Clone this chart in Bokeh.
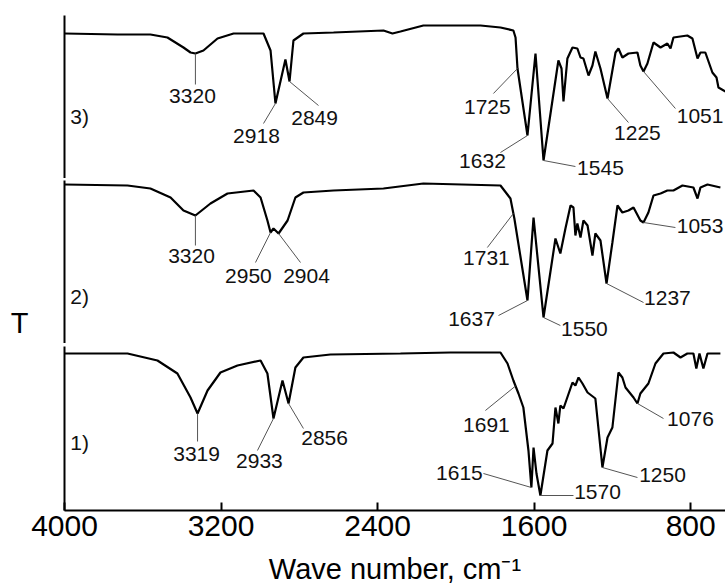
import numpy as np
from bokeh.plotting import figure
from bokeh.layouts import column
from bokeh.models import Range1d, FixedTicker, ColumnDataSource
from bokeh.embed import file_html
from bokeh.resources import INLINE
from bokeh.core.properties import value

FONT = "Liberation Sans"

# ---------------- data (wavenumber cm^-1, transmittance in arbitrary units per panel)
# Spectrum 3 (top)
wn3 = [4000, 3729, 3561, 3474, 3392, 3356, 3331, 3290, 3218, 3136, 2983, 2947, 2922, 2871,
       2850, 2830, 2779, 2625, 2370, 2324, 2283, 2166, 2028, 1874, 1772, 1706, 1695, 1685,
       1634, 1593, 1552, 1476, 1460, 1450, 1430, 1404, 1379, 1363, 1348, 1322, 1302, 1287,
       1261, 1225, 1184, 1169, 1149, 1118, 1072, 1057, 1041, 1021, 990, 954, 919, 903, 888,
       817, 791, 765, 750, 725, 689, 668, 658, 622]
t3 = [145, 144, 144, 141, 131, 126, 125, 128, 140, 145, 145, 128, 75, 119,
      97, 138, 145, 146, 148, 145, 147, 153, 153, 153, 151, 148, 141, 110,
      43, 125, 18, 118, 110, 77, 120, 131, 130, 121, 120, 103, 113, 127,
      110, 80, 126, 130, 121, 125, 126, 113, 107, 115, 136, 131, 135, 130, 141,
      143, 140, 120, 126, 126, 106, 101, 91, 87]

# Spectrum 2 (middle)
wn2 = [4000, 3678, 3561, 3458, 3392, 3331, 3254, 3167, 3034, 2998, 2963, 2947, 2932, 2906,
       2860, 2820, 2779, 2625, 2370, 2166, 1772, 1721, 1701, 1634, 1603, 1552, 1491, 1466,
       1440, 1414, 1399, 1389, 1379, 1363, 1348, 1327, 1302, 1287, 1261, 1230, 1200, 1174,
       1149, 1118, 1092, 1057, 1041, 1016, 990, 954, 919, 888, 842, 786, 765, 750, 714, 648]
t2 = [159, 158, 155, 146, 133, 128, 140, 150, 153, 146, 123, 111, 115, 110,
      123, 146, 151, 153, 155, 160, 158, 145, 125, 43, 126, 26, 105, 90,
      115, 138, 136, 108, 120, 106, 123, 118, 88, 110, 103, 60, 101, 138,
      131, 133, 136, 123, 121, 131, 148, 150, 153, 153, 158, 156, 145, 156, 159, 156]

# Spectrum 1 (bottom)
wn1 = [4000, 3678, 3525, 3423, 3356, 3320, 3269, 3203, 3116, 2998, 2963, 2932, 2886, 2855,
       2820, 2779, 2641, 2283, 2028, 1772, 1736, 1706, 1680, 1655, 1629, 1614, 1603, 1588,
       1568, 1532, 1506, 1491, 1476, 1466, 1450, 1404, 1389, 1373, 1353, 1327, 1287, 1251,
       1225, 1200, 1169, 1149, 1133, 1092, 1072, 1057, 1016, 980, 939, 888, 852, 817, 786,
       771, 755, 735, 714, 648]
t1 = [157, 157, 150, 137, 113, 97, 120, 138, 145, 150, 137, 92, 130, 107,
      143, 153, 156, 157, 158, 158, 147, 130, 117, 103, 60, 23, 63, 37,
      15, 60, 67, 103, 87, 105, 102, 128, 125, 133, 127, 118, 112, 43,
      73, 83, 138, 133, 123, 113, 107, 117, 127, 147, 157, 158, 153, 157, 157,
      142, 157, 142, 157, 157]

# peak annotations: label text, marked wavenumber
lab3 = ["3320", "2918", "2849", "1725", "1632", "1545", "1225", "1051"]
pk3 = [3331, 2922, 2850, 1685, 1634, 1552, 1225, 1041]
lab2 = ["3320", "2950", "2904", "1731", "1637", "1550", "1237", "1053"]
pk2 = [3331, 2947, 2906, 1706, 1634, 1552, 1230, 1041]
lab1 = ["3319", "2933", "2856", "1691", "1615", "1570", "1250", "1076"]
pk1 = [3320, 2932, 2855, 1695, 1614, 1568, 1251, 1072]

# annotation layout (leader end and label centre, in data units)
le3_x = [3331, 2983, 2702, 1808, 1772, 1389, 1118, 878]
le3_y = [94, 55, 73, 85, 26, 12, 56, 70]
lb3_x = [3346, 3019, 2722, 1839, 1864, 1261, 1072, 752]
lb3_y = [83, 43, 61, 72, 18, 11, 46, 63]

le2_x = [3331, 3024, 2794, 1839, 1782, 1466, 1041, 878]
le2_y = [98, 81, 81, 96, 28, 18, 41, 116]
lb2_x = [3351, 3060, 2763, 1844, 1920, 1343, 919, 752]
lb2_y = [88, 68, 68, 86, 25, 15, 46, 118]

le1_x = [3320, 3014, 2779, 1849, 1859, 1399, 1072, 939]
le1_y = [69, 60, 82, 100, 37, 15, 33, 92]
lb1_x = [3325, 3004, 2671, 1844, 1982, 1276, 944, 801]
lb1_y = [57, 50, 73, 86, 38, 19, 36, 92]

panel_names = ["3)", "2)", "1)"]
panel_name_x = 3923
panel_name_y = [62, 47, 68]

x_ticks = [4000, 3200, 2400, 1600, 800]
x_title = "Wave number, cm\u207b\u00b9"
y_title = "T"
y_title_pos = 21   # in the middle panel's units

xr = Range1d(4000, 622)


def make_panel(height, btop, bbottom, frame_h, wn, t, labs, pk, lex, ley, lbx, lby,
               pname, pname_y, show_x, show_ytitle=False):
    p = figure(width=725, height=height, x_range=xr, y_range=Range1d(0, frame_h),
               output_backend="svg", toolbar_location=None,
               x_axis_location=("below" if show_x else None),
               min_border_left=64, min_border_right=0,
               min_border_top=btop, min_border_bottom=bbottom)
    p.outline_line_color = None
    p.grid.visible = False
    p.background_fill_color = "white"
    p.border_fill_color = "white"
    ya = p.yaxis[0]
    ya.ticker = FixedTicker(ticks=([y_title_pos] if show_ytitle else []))
    ya.major_tick_line_color = None
    ya.minor_tick_line_color = None
    ya.axis_line_width = 2
    ya.axis_line_color = "black"
    if show_ytitle:
        ya.major_label_overrides = {y_title_pos: y_title}
        ya.major_label_text_font = FONT
        ya.major_label_text_font_size = "29px"
        ya.major_label_text_color = "black"
        ya.major_label_standoff = 30
    if show_x:
        xa = p.xaxis[0]
        xa.ticker = FixedTicker(ticks=x_ticks)
        xa.axis_line_width = 2
        xa.major_tick_line_width = 2
        xa.major_tick_in = 8
        xa.major_tick_out = 0
        xa.minor_tick_line_color = None
        xa.major_label_text_font = FONT
        xa.major_label_text_font_size = "30px"
        xa.major_label_text_color = "black"
        xa.major_label_standoff = 5
        xa.axis_label = x_title
        xa.axis_label_text_font = FONT
        xa.axis_label_text_font_size = "29px"
        xa.axis_label_text_font_style = "normal"
        xa.axis_label_text_color = "black"
        xa.axis_label_standoff = 14

    p.line(wn, t, line_color="black", line_width=2.2)

    wn_arr = np.array(wn, dtype=float)[::-1]
    t_arr = np.array(t, dtype=float)[::-1]
    py = np.interp(np.array(pk, dtype=float), wn_arr, t_arr)
    p.segment(x0=pk, y0=list(py), x1=lex, y1=ley, line_color="#555555", line_width=1)
    src = ColumnDataSource(dict(x=lbx, y=lby, text=labs))
    p.text(x="x", y="y", text="text", source=src, text_align="center",
           text_baseline="middle", text_font=value(FONT), text_font_size="21px",
           text_color="#111111")
    p.text(x=[panel_name_x], y=[pname_y], text=[pname], text_align="center",
           text_baseline="middle", text_font=value(FONT), text_font_size="21px",
           text_color="#111111")
    return p


p3 = make_panel(178, 15, 0, 163, wn3, t3, lab3, pk3, le3_x, le3_y, lb3_x, lb3_y,
                panel_names[0], panel_name_y[0], False)
p2 = make_panel(165, 2, 0, 163, wn2, t2, lab2, pk2, le2_x, le2_y, lb2_x, lb2_y,
                panel_names[1], panel_name_y[1], False, show_ytitle=True)
p1 = make_panel(244, 3, 77, 164, wn1, t1, lab1, pk1, le1_x, le1_y, lb1_x, lb1_y,
                panel_names[2], panel_name_y[2], True)

layout = column(p3, p2, p1, spacing=0)

open("out.html", "w").write(file_html(layout, INLINE))
